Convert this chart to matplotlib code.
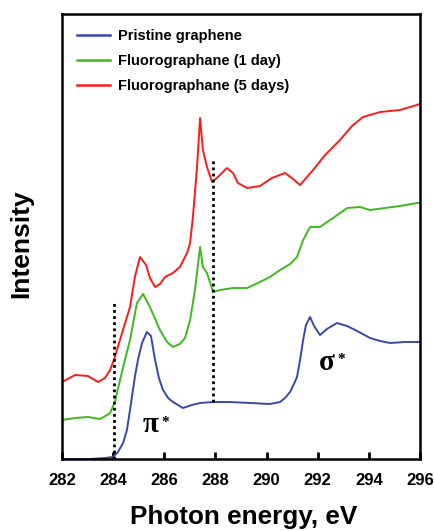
import numpy as np
import matplotlib
matplotlib.use("Agg")
import matplotlib.pyplot as plt

plt.rcParams['font.family'] = ['Liberation Sans', 'DejaVu Sans']

# photon energy (eV) and intensity (a.u.)
pristine_x = [282.0, 283.10, 283.68, 283.99, 284.19, 284.39, 284.54, 284.66, 284.85, 284.97,
              285.13, 285.32, 285.48, 285.64, 285.79, 285.95, 286.15, 286.34, 286.73, 287.08,
              287.40, 287.91, 288.57, 289.35, 290.13, 290.53, 290.72, 290.92, 291.07, 291.19,
              291.31, 291.43, 291.54, 291.70, 291.86, 292.09, 292.36, 292.75, 293.15, 293.54,
              294.05, 294.44, 294.83, 295.41, 296.0]
pristine_y = [0.0, 0.0, 0.01, 0.02, 0.07, 0.16, 0.29, 0.49, 0.82, 0.99,
              1.16, 1.27, 1.23, 0.99, 0.81, 0.69, 0.61, 0.57, 0.51, 0.54,
              0.56, 0.57, 0.57, 0.56, 0.55, 0.57, 0.61, 0.67, 0.75, 0.82,
              0.99, 1.19, 1.34, 1.42, 1.33, 1.24, 1.30, 1.36, 1.33, 1.28,
              1.21, 1.18, 1.16, 1.17, 1.17]

day1_x = [282.0, 282.51, 283.02, 283.49, 283.76, 283.88, 284.07, 284.27, 284.46, 284.66,
          284.93, 285.17, 285.44, 285.83, 286.11, 286.34, 286.61, 286.81, 287.01, 287.20,
          287.40, 287.51, 287.67, 287.91, 288.18, 288.69, 289.24, 289.74, 290.13, 290.53,
          290.92, 291.19, 291.43, 291.70, 292.09, 292.60, 293.15, 293.65, 294.05, 294.63,
          295.22, 295.88, 296.0]
day1_y = [0.39, 0.41, 0.42, 0.40, 0.44, 0.46, 0.57, 0.79, 0.99, 1.19,
          1.56, 1.65, 1.52, 1.29, 1.17, 1.12, 1.15, 1.21, 1.39, 1.69,
          2.12, 1.92, 1.86, 1.67, 1.69, 1.71, 1.71, 1.77, 1.82, 1.89,
          1.95, 2.02, 2.19, 2.32, 2.32, 2.41, 2.51, 2.52, 2.49, 2.51,
          2.53, 2.56, 2.56]

day5_x = [282.0, 282.51, 283.02, 283.41, 283.68, 283.88, 284.03, 284.35, 284.66, 284.85,
          285.05, 285.29, 285.44, 285.64, 285.83, 286.03, 286.34, 286.61, 286.89, 287.01,
          287.12, 287.28, 287.40, 287.51, 287.67, 287.87, 288.10, 288.45, 288.69, 288.88,
          289.24, 289.74, 290.21, 290.72, 290.99, 291.31, 291.82, 292.29, 292.87, 293.34,
          293.77, 294.44, 295.22, 295.61, 296.0]
day5_y = [0.77, 0.84, 0.83, 0.77, 0.81, 0.89, 0.99, 1.26, 1.52, 1.82,
          2.02, 1.94, 1.81, 1.72, 1.75, 1.82, 1.86, 1.92, 2.06, 2.16,
          2.42, 2.92, 3.41, 3.09, 2.92, 2.77, 2.82, 2.91, 2.86, 2.76,
          2.71, 2.73, 2.81, 2.86, 2.81, 2.74, 2.89, 3.04, 3.19, 3.33,
          3.42, 3.47, 3.49, 3.52, 3.55]

labels = ['Pristine graphene', 'Fluorographane (1 day)', 'Fluorographane (5 days)']
colors = ['#3848a8', '#3cba1e', '#ff1a1a']
xticks = [282, 284, 286, 288, 290, 292, 294, 296]

fig = plt.figure(figsize=(4.35, 5.31), dpi=100)
ax = fig.add_axes([0.1425, 0.1356, 0.823, 0.838])

ax.plot(pristine_x, pristine_y, color=colors[0], lw=1.4, label=labels[0])
ax.plot(day1_x, day1_y, color=colors[1], lw=1.4, label=labels[1])
ax.plot(day5_x, day5_y, color=colors[2], lw=1.4, label=labels[2])

# dotted guide lines
ax.plot([284.05, 284.05], [0.0, 1.56], ls=(0, (1, 1.2)), color='black', lw=2)
ax.plot([287.9, 287.9], [0.57, 2.99], ls=(0, (1, 1.2)), color='black', lw=2)

# peak labels: big serif greek letter + small star
serif = ['Liberation Serif', 'DejaVu Serif']
for sym, px, py in [('π', 285.46, 0.34), ('σ', 292.34, 0.965)]:
    ax.text(px, py, sym, family=serif, fontsize=21, fontweight='bold',
            ha='center', va='center')
    ax.annotate('*', (px, py), xytext=(10.5, 2), textcoords='offset points',
                family=serif, fontsize=11, fontweight='bold', ha='center', va='center')

ax.set_xlim(282, 296)
ax.set_ylim(0, 4.45)
ax.set_xticks(xticks)
ax.set_xticklabels([str(t) for t in xticks], fontweight='bold', fontsize=12)
ax.set_yticks([])
ax.tick_params(axis='x', direction='in', length=5, width=2, pad=10)
for s in ax.spines.values():
    s.set_linewidth(1.8)

ax.set_xlabel('Photon energy, eV', fontsize=18.8, fontweight='bold')
ax.xaxis.set_label_coords(0.506, -0.104)
ax.set_ylabel('Intensity', fontsize=19, fontweight='bold')
ax.yaxis.set_label_coords(-0.081, 0.483)

leg = ax.legend(loc='upper left', bbox_to_anchor=(0.005, 0.996), frameon=False,
                prop={'weight': 'bold', 'size': 10.5}, handlelength=2.3,
                handletextpad=0.55, labelspacing=0.77)
for l in leg.get_lines():
    l.set_linewidth(1.8)

fig.savefig('out.png', dpi=100)
